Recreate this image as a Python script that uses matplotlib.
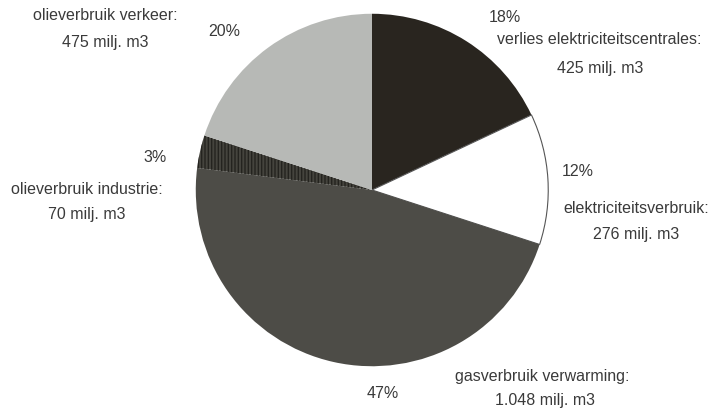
import matplotlib.pyplot as plt

# energieverbruik, aandelen in procenten (met klok mee vanaf boven)
namen = ["verlies elektriciteitscentrales:", "elektriciteitsverbruik:",
         "gasverbruik verwarming:", "olieverbruik industrie:",
         "olieverbruik verkeer:"]
hoeveelheden = ["425 milj. m3", "276 milj. m3", "1.048 milj. m3",
                "70 milj. m3", "475 milj. m3"]
procenten = [18, 12, 47, 3, 20]

kleuren = ["#29251f", "#ffffff", "#4d4c47", "#45443e", "#b7b9b6"]
tekstkleur = "#3a3a3a"

plt.rcParams['font.family'] = ['Liberation Sans', 'DejaVu Sans']
plt.rcParams['hatch.linewidth'] = 1.0

W, H = 717, 413
fig = plt.figure(figsize=(W / 100, H / 100), dpi=100)

cx, cy, r = 372, 190, 178
ax = fig.add_axes([(cx - r) / W, (H - cy - r) / H, 2 * r / W, 2 * r / H])
wedges, _ = ax.pie(procenten, colors=kleuren, startangle=90, counterclock=False,
                   radius=1, wedgeprops=dict(edgecolor='none'))
wedges[1].set_edgecolor('#555555')
wedges[1].set_linewidth(0.8)
# industrie-segment met verticale arcering
wedges[3].set_edgecolor('#24231f')
wedges[3].set_linewidth(0)
wedges[3].set_hatch('|||||')
ax.set_xlim(-1.01, 1.01)
ax.set_ylim(-1.01, 1.01)
ax.set_aspect('equal')
ax.axis('off')


def label(x, y, s):
    fig.text(x / W, 1 - y / H, s, ha='center', va='center',
             fontsize=11.5, color=tekstkleur)


# labels: (procent-positie, naam-positie, hoeveelheid-positie)
plaatsen = [
    ((505, 17), (599, 40), (600, 68)),
    ((578, 172), (636, 208), (636, 234)),
    ((383, 393), (542, 376), (545, 401)),
    ((155, 158), (87, 190), (87, 214)),
    ((224, 31), (105, 15), (105, 42)),
]
for p, naam, hoev, (pp, pn, ph) in zip(procenten, namen, hoeveelheden, plaatsen):
    label(*pp, f"{p}%")
    label(*pn, naam)
    label(*ph, hoev)

fig.savefig("out.png", dpi=100)
